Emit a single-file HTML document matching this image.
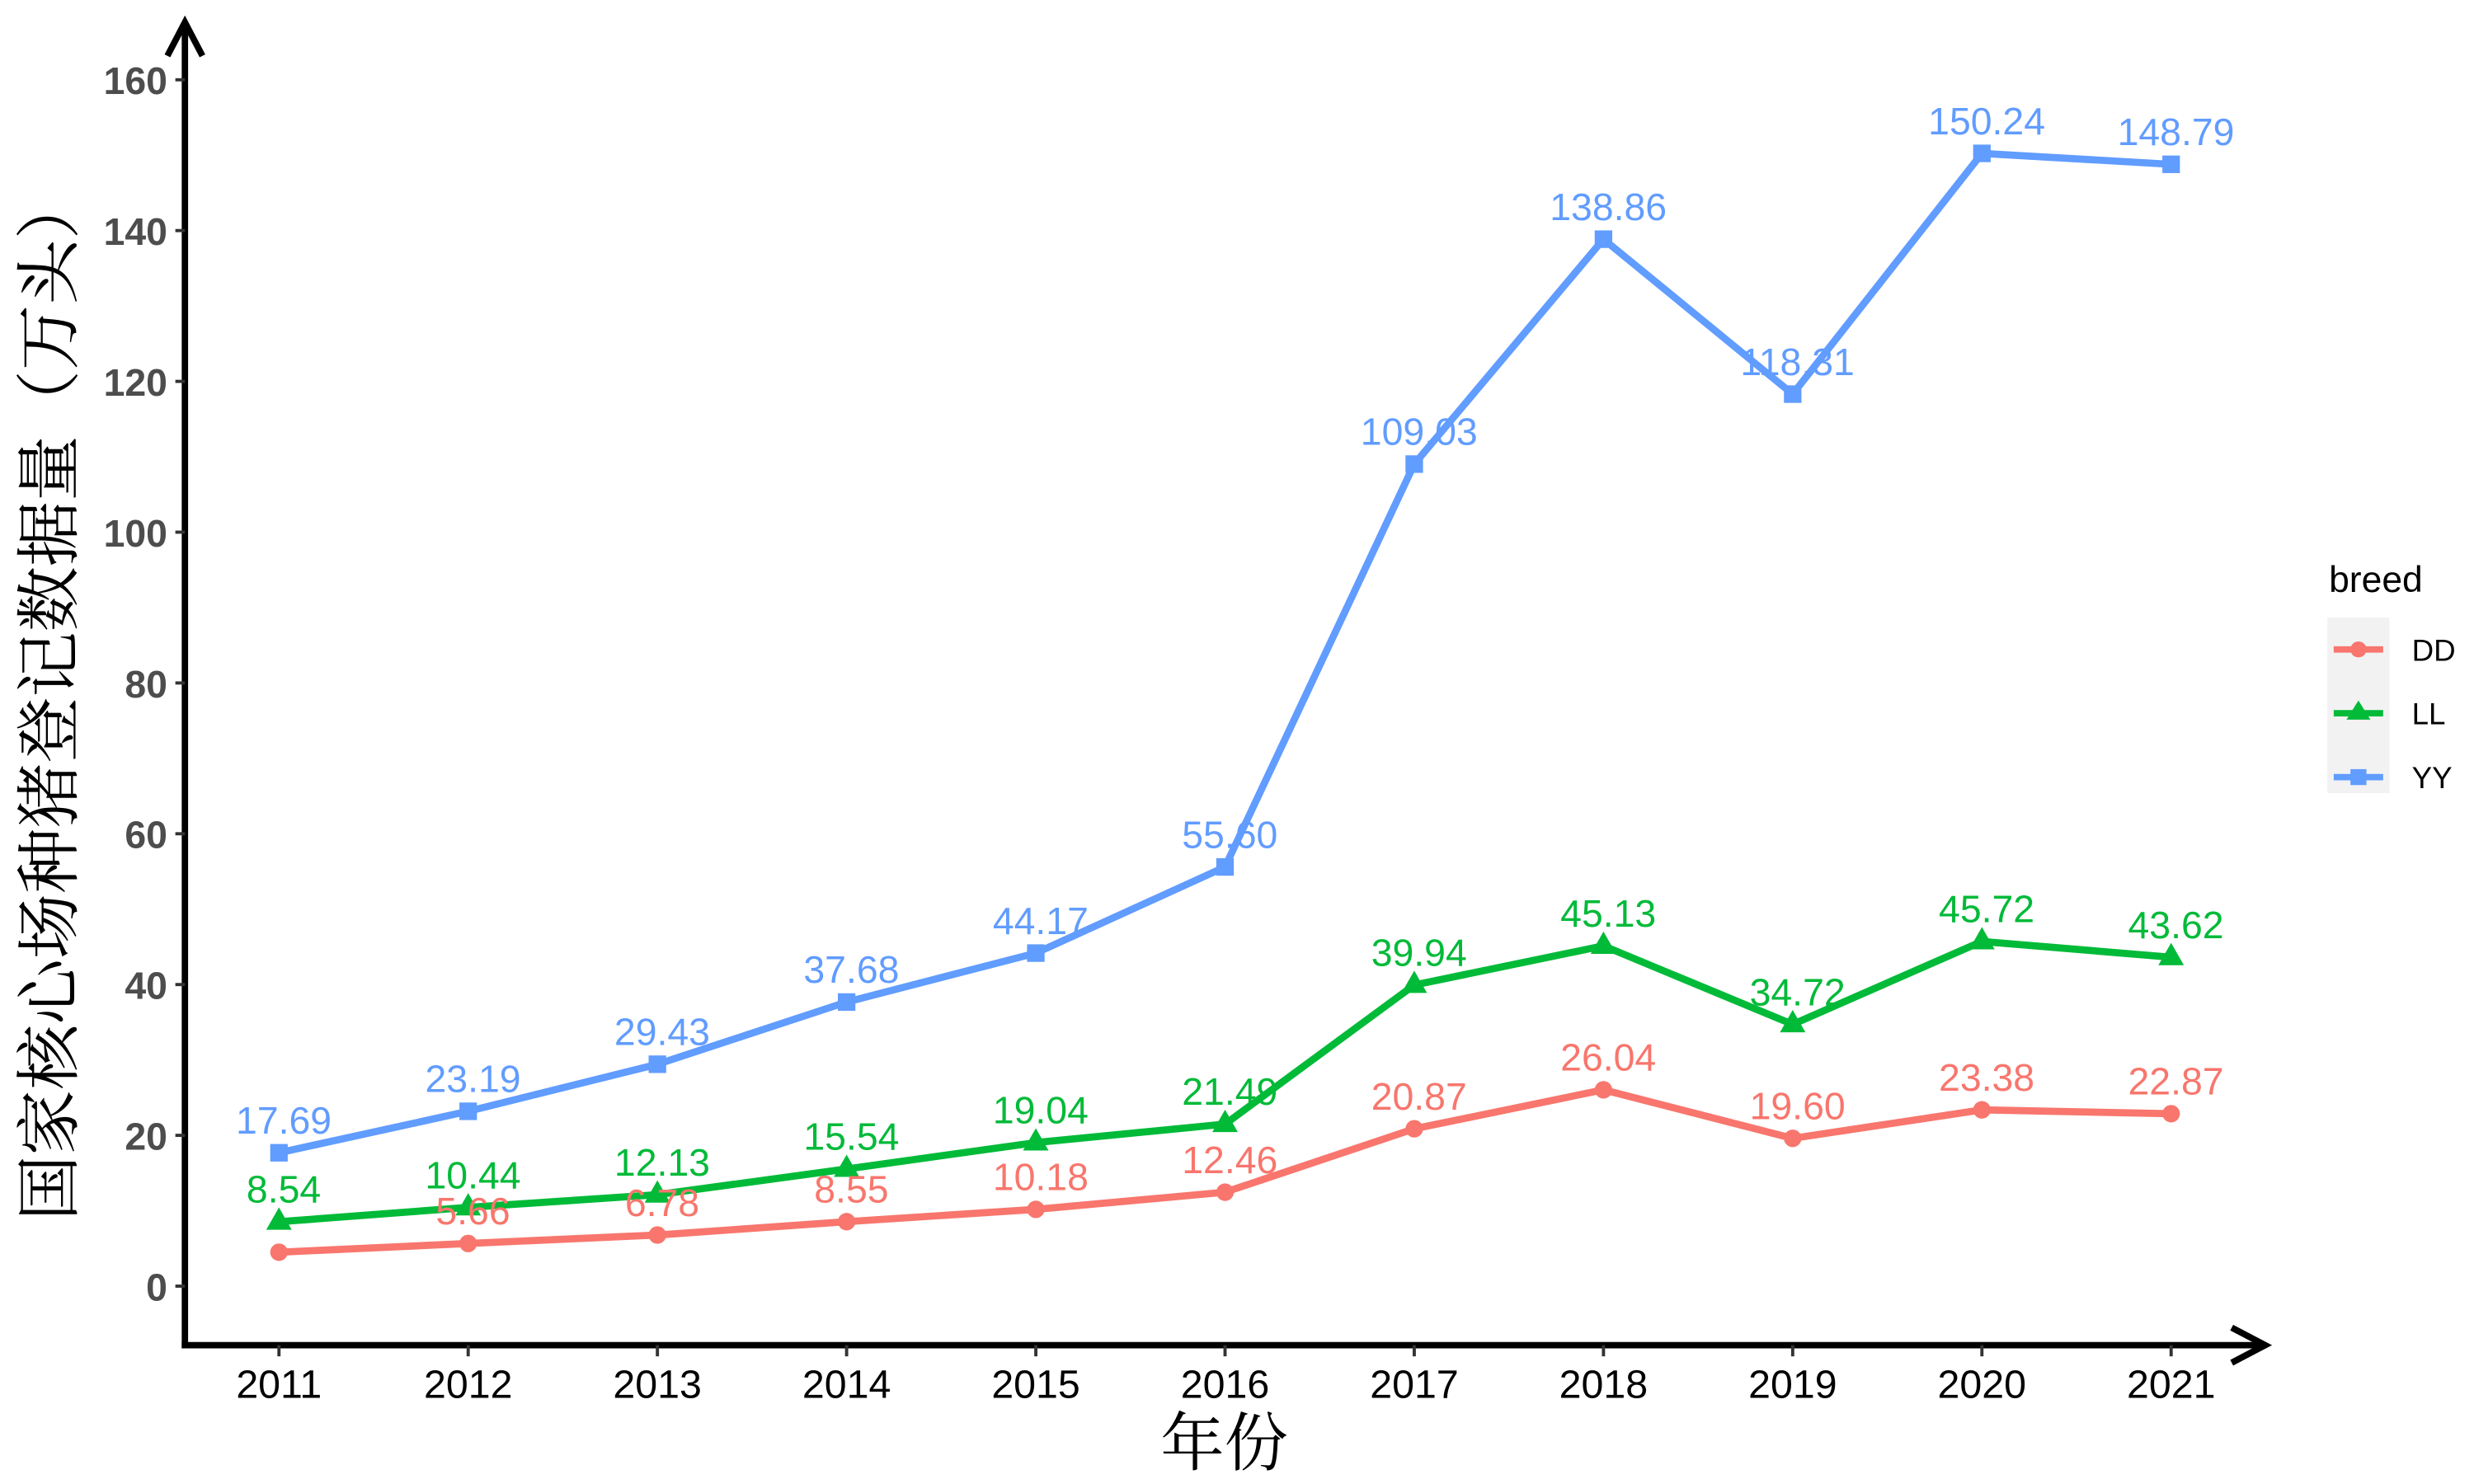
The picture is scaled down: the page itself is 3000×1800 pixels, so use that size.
<!DOCTYPE html>
<html><head><meta charset="utf-8"><style>html,body{margin:0;padding:0;background:#fff}svg{display:block}</style></head>
<body>
<svg id="s" width="3000" height="1800" viewBox="0 0 1552 930" preserveAspectRatio="none" xmlns="http://www.w3.org/2000/svg" font-family="Liberation Sans, Arial, sans-serif">
<rect width="1552" height="930" fill="#fff"/>
<g id="axes" stroke="#000" stroke-width="4" fill="none">
<line x1="116" y1="845" x2="116" y2="14"/>
<polyline points="105,35 116,14 127,35"/>
<line x1="114" y1="843" x2="1421" y2="843"/>
<polyline points="1400,832 1421,843 1400,854"/>
</g>
<g id="ticks" stroke="#333" stroke-width="2"></g>
<g id="yl" font-weight="bold" font-size="24" fill="#4d4d4d" text-anchor="end"></g>
<g id="xl" font-size="25" fill="#000" text-anchor="middle"></g>
<g id="series"></g>
<text x="768" y="918" font-size="40" text-anchor="middle" font-family="Liberation Serif, Noto Serif CJK SC, serif">年份</text>
<text transform="translate(45,437) rotate(-90)" font-size="41" text-anchor="middle" font-family="Liberation Serif, Noto Serif CJK SC, serif">国家核心场种猪登记数据量（万头）</text>
<text x="1461" y="371" font-size="23">breed</text>
<rect x="1460" y="387" width="39" height="110" fill="#f2f2f2"/>
<g font-size="19">
<line x1="1464" y1="407" x2="1495" y2="407" stroke="#F8766D" stroke-width="4"/><circle cx="1479.5" cy="407" r="5" fill="#F8766D"/><text x="1513" y="414">DD</text>
<line x1="1464" y1="447" x2="1495" y2="447" stroke="#00BA38" stroke-width="4"/><polygon points="1479.5,439 1487,451 1472,451" fill="#00BA38"/><text x="1513" y="454">LL</text>
<line x1="1464" y1="487" x2="1495" y2="487" stroke="#619CFF" stroke-width="4"/><rect x="1474.5" y="482" width="10" height="10" fill="#619CFF"/><text x="1513" y="494">YY</text>
</g>
</svg>
<script>
var NS="http://www.w3.org/2000/svg";
function el(p,t,a,txt){var e=document.createElementNS(NS,t);for(var k in a)e.setAttribute(k,a[k]);if(txt!=null)e.textContent=txt;p.appendChild(e);return e;}
function Y(v){return 806-v*4.725;}
function X(i){return 175+i*118.7;}
var tk=document.getElementById('ticks'),yl=document.getElementById('yl'),xl=document.getElementById('xl');
for(var v=0;v<=160;v+=20){el(tk,'line',{x1:110,x2:116,y1:Y(v),y2:Y(v)});el(yl,'text',{x:105,y:Y(v)+9},v);}
for(var i=0;i<11;i++){el(tk,'line',{x1:X(i),x2:X(i),y1:843,y2:850});el(xl,'text',{x:X(i),y:876},2011+i);}
var D={DD:[4.5,5.66,6.78,8.55,10.18,12.46,20.87,26.04,19.60,23.38,22.87],
LL:[8.54,10.44,12.13,15.54,19.04,21.49,39.94,45.13,34.72,45.72,43.62],
YY:[17.69,23.19,29.43,37.68,44.17,55.60,109.03,138.86,118.31,150.24,148.79]};
var C={DD:'#F8766D',LL:'#00BA38',YY:'#619CFF'};
var g=document.getElementById('series');
['DD','LL','YY'].forEach(function(s){
 var pts=D[s].map(function(v,i){return X(i)+','+Y(v);}).join(' ');
 el(g,'polyline',{points:pts,fill:'none',stroke:C[s],'stroke-width':4.5,'stroke-linejoin':'round'});
 D[s].forEach(function(v,i){var x=X(i),y=Y(v);
  if(s=='DD')el(g,'circle',{cx:x,cy:y,r:5.5,fill:C[s]});
  if(s=='LL')el(g,'polygon',{points:(x)+','+(y-9)+' '+(x+8)+','+(y+5)+' '+(x-8)+','+(y+5),fill:C[s]});
  if(s=='YY')el(g,'rect',{x:x-5.5,y:y-5.5,width:11,height:11,fill:C[s]});
 });
});
['DD','LL','YY'].forEach(function(s){
 D[s].forEach(function(v,i){
  if(s=='DD'&&i==0)return;
  el(g,'text',{x:X(i)+3,y:Y(v)-12,'font-size':24,'text-anchor':'middle',fill:C[s]},v.toFixed(2));
 });
});
</script>
</body></html>
